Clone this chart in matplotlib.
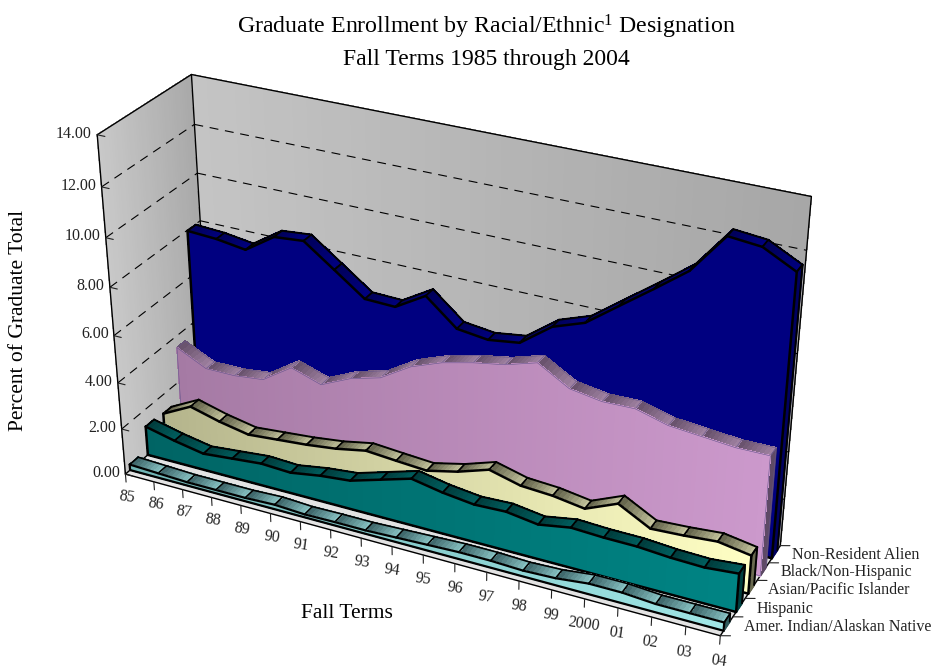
"""3-D stacked-depth area chart of graduate enrollment shares, fall 1985-2004."""
import matplotlib
matplotlib.use("Agg")
import matplotlib.pyplot as plt
import numpy as np
from mpl_toolkits.mplot3d import proj3d
from mpl_toolkits.mplot3d.art3d import Line3DCollection, Poly3DCollection

plt.rcParams["font.family"] = ["Liberation Serif", "DejaVu Serif"]
plt.rcParams["mathtext.fontset"] = "custom"
plt.rcParams["mathtext.rm"] = "Liberation Serif"
plt.rcParams["mathtext.default"] = "regular"

# ── Data ──────────────────────────────────────────────────────────────────────

TERMS = ["85", "86", "87", "88", "89", "90", "91", "92", "93", "94",
         "95", "96", "97", "98", "99", "2000", "01", "02", "03", "04"]
GROUPS = ["Amer. Indian/Alaskan Native", "Hispanic", "Asian/Pacific Islander",
          "Black/Non-Hispanic", "Non-Resident Alien"]
AMER_INDIAN = [0.25, 0.20, 0.15, 0.15, 0.15, 0.20, 0.13, 0.15, 0.15, 0.20,
               0.25, 0.30, 0.30, 0.25, 0.30, 0.45, 0.45, 0.35, 0.35, 0.35]
HISPANIC = [1.27, 0.97, 0.73, 0.85, 0.97, 0.91, 1.12, 1.25, 1.64, 2.03,
            1.78, 1.62, 1.67, 1.48, 1.71, 1.65, 1.64, 1.54, 1.50, 1.62]
ASIAN = [1.19, 1.83, 1.49, 1.24, 1.35, 1.46, 1.62, 1.87, 1.77, 1.68,
         1.98, 2.41, 2.07, 1.99, 1.79, 2.36, 1.66, 1.73, 1.84, 1.62]
BLACK = [3.50, 2.88, 2.88, 3.02, 3.85, 3.43, 4.01, 4.36, 5.14, 5.62,
         5.93, 6.16, 6.55, 5.80, 5.59, 5.62, 5.26, 5.14, 5.02, 5.03]
NON_RESIDENT = [7.97, 7.90, 7.72, 8.53, 8.64, 7.72, 6.79, 6.75, 7.50, 6.43,
                6.27, 6.45, 7.41, 7.87, 8.84, 9.80, 10.79, 12.39, 12.26, 11.60]
Z_TICKS = [0, 2, 4, 6, 8, 10, 12, 14]

# ── Styles: face left/right, ribbon dark/light, side, outline colour ─────────

STYLES = [
    dict(vals=AMER_INDIAN, face=("#6fb4b4", "#a0e6e6"), rib=("#3c6468", "#8cc8c8"),
         side="#2f5a5c", edge="black", lw=1.2),
    dict(vals=HISPANIC, face=("#006464", "#008484"), rib=("#003c3c", "#006060"),
         side="#004040", edge="black", lw=1.4),
    dict(vals=ASIAN, face=("#b4b48c", "#ffffc4"), rib=("#62624a", "#c8c8a0"),
         side="#6a6a50", edge="black", lw=1.4),
    dict(vals=BLACK, face=("#a57aa4", "#cc99cc"), rib=("#66506a", "#a284a4"),
         side="#5e4a66", edge="#65558c", lw=0.4),
    dict(vals=NON_RESIDENT, face=("#000080", "#000080"), rib=("#000058", "#000080"),
         side="#000060", edge="black", lw=1.4),
]

# ── Projection: fit the camera to the corners of the chart box ───────────────

BOX_CORNERS = [(0, 0, 0), (0, 0, 14), (0, 5, 14), (0, 5, 0), (19, 5, 14), (19, 5, 0), (19, 0, 0)]
BOX_PIXELS = [(125, 470), (97, 137), (192, 72), (211, 405), (811, 197), (780, 543), (721, 638)]


def fit_camera():
    rows, rhs = [], []
    for (x, y, z), (u, v) in zip(BOX_CORNERS, BOX_PIXELS):
        rows.append([x, y, z, 1, 0, 0, 0, 0, -u * x, -u * y, -u * z])
        rows.append([0, 0, 0, 0, x, y, z, 1, -v * x, -v * y, -v * z])
        rhs += [u, v]
    p = np.linalg.lstsq(np.array(rows, float), np.array(rhs, float), rcond=None)[0]
    p = np.append(p, 1).reshape(3, 4)
    return np.array([p[0], p[1], [0, 1, 0, 0], p[2]])


def mix(c0, c1, t):
    return tuple((1 - t) * np.array(matplotlib.colors.to_rgb(c0))
                 + t * np.array(matplotlib.colors.to_rgb(c1)))


fig = plt.figure(figsize=(9.35, 6.71), dpi=100)
# Axes3D keeps a square box, so make it 935 px square around the figure
ax = fig.add_axes([0, -132 / 671, 1, 935 / 671], projection="3d", computed_zorder=False)
ax.set_axis_off()
M = fit_camera()
ax.get_proj = lambda: M
ax.viewLim.intervalx = (0, 935)
ax.viewLim.intervaly = (803, -132)

_z = [0]


def next_z():
    _z[0] += 1
    return _z[0]


def polys(verts, colors, lw=0.5):
    col = Poly3DCollection(verts, facecolors=colors, edgecolors=colors, linewidths=lw,
                           antialiaseds=False, zorder=next_z())
    ax.add_collection3d(col)


def lines(segs, color="black", lw=1.0, ls="solid"):
    col = Line3DCollection(segs, colors=color, linewidths=lw, linestyles=ls, zorder=next_z(),
                           capstyle="round" if ls == "solid" else "butt", joinstyle="round")
    ax.add_collection3d(col)


def label3d(x, y, z, text, **kw):
    px, py, _ = proj3d.proj_transform(x, y, z, M)
    ax.text2D(px, py, text, transform=ax.transData, color="#222222", zorder=900, **kw)


# ── Walls and floor ───────────────────────────────────────────────────────────

N_WALL = 40
ts = np.linspace(0, 1, N_WALL + 1)
polys([[(0, 5 * a, 0), (0, 5 * b, 0), (0, 5 * b, 14), (0, 5 * a, 14)] for a, b in zip(ts[:-1], ts[1:])],
      [mix("#c8c8c8", "#a8a8a8", t) for t in ts[:-1]])
polys([[(19 * a, 5, 0), (19 * b, 5, 0), (19 * b, 5, 14), (19 * a, 5, 14)] for a, b in zip(ts[:-1], ts[1:])],
      [mix("#c4c4c4", "#a6a6a6", t) for t in ts[:-1]])
polys([[(0, 0, 0), (19, 0, 0), (19, 5, 0), (0, 5, 0)]], ["#e3e3e3"])

grid = []
for z in Z_TICKS[1:-1]:
    grid += [[(0, 0, z), (0, 5, z)], [(0, 5, z), (19, 5, z)]]
lines(grid, lw=0.8, ls=(0, (8, 6)))
lines([[(0, 0, 14), (0, 5, 14)], [(0, 5, 14), (19, 5, 14)], [(19, 5, 14), (19, 5, 0)],
       [(0, 5, 14), (0, 5, 0)], [(0, 0, 14), (0, 0, 0)],
       [(0, 0, 0), (19, 0, 0)], [(19, 0, 0), (19, 5, 0)], [(0, 0, 0), (0, 5, 0)]], lw=1.0)

# ── Series, back to front ─────────────────────────────────────────────────────

xs = np.arange(len(TERMS))
N_SUB = 8
for row, st in reversed(list(enumerate(STYLES))):
    v = np.array(st["vals"])
    y0, y1 = row + 0.26, row + 0.74

    # top ribbon, shaded along each segment
    rib_v, rib_c = [], []
    for i in range(len(xs) - 1):
        for k in range(N_SUB):
            a, b = k / N_SUB, (k + 1) / N_SUB
            xa, xb = xs[i] + a, xs[i] + b
            va, vb = v[i] + a * (v[i + 1] - v[i]), v[i] + b * (v[i + 1] - v[i])
            rib_v.append([(xa, y0, va), (xb, y0, vb), (xb, y1, vb), (xa, y1, va)])
            rib_c.append(mix(st["rib"][0], st["rib"][1], (a + b) / 2))
    polys(rib_v, rib_c)
    segs = [[(x, y0, h), (x, y1, h)] for x, h in zip(xs, v)]
    segs += [[(xs[i], y1, v[i]), (xs[i + 1], y1, v[i + 1])] for i in range(len(xs) - 1)]
    lines(segs, st["edge"], st["lw"])

    # right end of the band
    polys([[(19, y0, 0), (19, y1, 0), (19, y1, v[-1]), (19, y0, v[-1])]], [st["side"]])
    lines([[(19, y0, v[-1]), (19, y1, v[-1])], [(19, y1, v[-1]), (19, y1, 0)]], st["edge"], st["lw"])

    # front face with the left-to-right shading
    face_v, face_c = [], []
    for i in range(len(xs) - 1):
        for k in range(N_SUB):
            a, b = k / N_SUB, (k + 1) / N_SUB
            xa, xb = xs[i] + a, xs[i] + b
            va, vb = v[i] + a * (v[i + 1] - v[i]), v[i] + b * (v[i + 1] - v[i])
            face_v.append([(xa, y0, 0), (xb, y0, 0), (xb, y0, vb), (xa, y0, va)])
            face_c.append(mix(st["face"][0], st["face"][1], (xa + xb) / 2 / xs[-1]))
    polys(face_v, face_c)
    outline = [(0, y0, 0)] + [(x, y0, h) for x, h in zip(xs, v)] + [(19, y0, 0), (0, y0, 0)]
    lines([[p, q] for p, q in zip(outline[:-1], outline[1:])], st["edge"], st["lw"] + 0.4 * (st["lw"] > 1))

# ── Ticks and labels ──────────────────────────────────────────────────────────

lines([[(x, 0, 0), (x, 0, -0.36)] for x in xs], color="#222222", lw=0.8)
lines([[(0, 0, z), (0.25, 0, z)] for z in Z_TICKS], color="#222222", lw=0.8)
lines([[(19, y, 0), (19.25, y + 0.12, 0)] for y in range(6)], color="#222222", lw=0.8)

for x, label in zip(xs, TERMS):
    label3d(x, 0, -(1.02 + 0.004 * x), label, ha="center", va="center", rotation=-8, fontsize=11.5)
for z in Z_TICKS:
    label3d(-0.18, 0, z, f"{z:.2f}", ha="right", va="center", fontsize=11.5)
for row, label in enumerate(GROUPS):
    label3d(19.5, row + 0.5, 0.15, label, ha="left", va="center", fontsize=11.5)

fig.text(486 / 935, 1 - 27 / 671, "Graduate Enrollment by Racial/Ethnic$^{1}$ Designation",
         ha="center", va="center", fontsize=17.2)
fig.text(486 / 935, 1 - 59 / 671, "Fall Terms 1985 through 2004", ha="center", va="center", fontsize=17)
fig.text(347 / 935, 1 - 613 / 671, "Fall Terms", ha="center", va="center", fontsize=15.5)
fig.text(19 / 935, 1 - 320 / 671, "Percent of Graduate Total", ha="center", va="center",
         rotation=90, fontsize=15.5)

fig.savefig("out.png", dpi=100)
